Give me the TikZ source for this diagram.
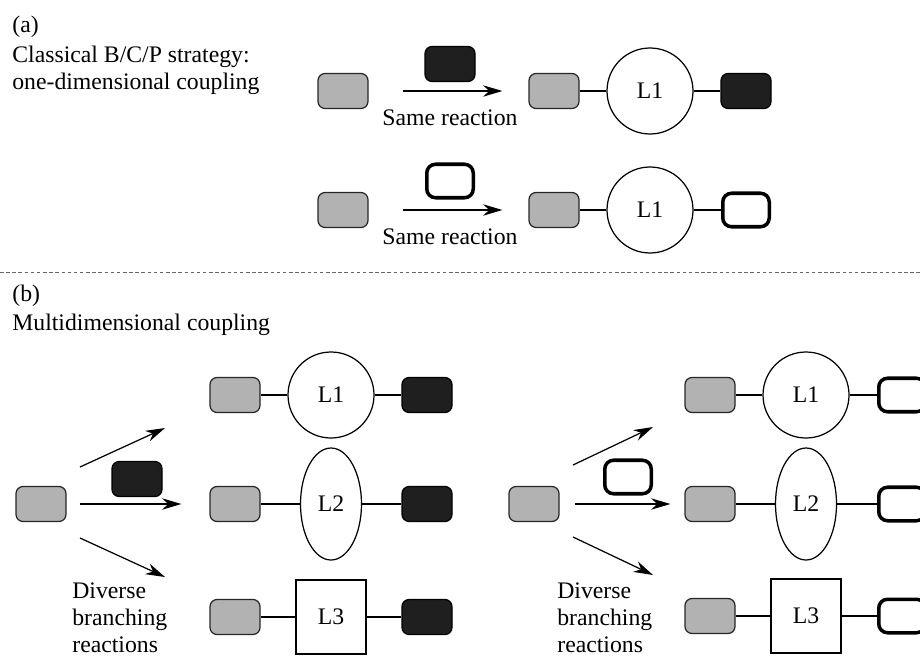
\documentclass[tikz,border=0pt]{standalone}
\usepackage{fontspec}
\setmainfont{Liberation Serif}
\usepackage{tikz}
\usetikzlibrary{shapes.geometric, arrows, arrows.meta, positioning}
\tikzstyle{core} = [rectangle, rounded corners=4pt, minimum width=1cm, minimum height=0.7cm, draw=black!85, line width=0.7pt, fill=black!30]
\tikzstyle{filled} = [rectangle, rounded corners=4pt, minimum width=1cm, minimum height=0.7cm, draw=black, line width=0.7pt, fill=black!88]
\tikzstyle{hollow} = [rectangle, rounded corners=5pt, minimum width=0.93cm, minimum height=0.67cm, draw=black, line width=2pt, fill=white]
\tikzstyle{ring} = [circle, minimum size=1.72cm, inner sep=0pt, draw=black, line width=0.7pt]
\tikzstyle{oval} = [ellipse, minimum width=1.22cm, minimum height=2.24cm, inner sep=0pt, draw=black, line width=0.7pt]
\tikzstyle{box} = [rectangle, minimum width=1.4cm, minimum height=1.48cm, draw=black, line width=0.7pt]
\tikzstyle{note} = [align=left, inner sep=0pt]
\tikzstyle{link} = [line width=0.7pt]
\tikzstyle{arrow} = [line width=0.7pt, ->, >={Stealth[length=11pt, width=6.5pt, inset=3.5pt]}]

\begin{document}
\begin{tikzpicture}[node distance = 1.92cm, font=\fontsize{13.5}{15.5}\selectfont]
	\useasboundingbox (0,0) rectangle (18.4,-13.14);
	% (a) one-dimensional coupling
	\node (tagA) [note, anchor=west] at (0.24,-0.54) {(a)};
	\node (titleA) [note, anchor=west] at (0.24,-1.40) {Classical B/C/P strategy:\\one-dimensional coupling};

	\node (coreA1) [core] at (6.86,-1.82) {};
		\node (reagA1) [filled] at (9.0,-1.28) {};
		\node (noteA1) at (9.0,-2.36) {Same reaction};
		\node (prodA1) [core] at (11.08,-1.82) {};
		\node (ligA1) [ring, right of = prodA1] {L1};
		\node (capA1) [filled, right of = ligA1] {};
	\draw [arrow, shorten <=0.68cm, shorten >=0.52cm] (coreA1) -- (prodA1);
	\draw [link] (prodA1) -- (ligA1);
	\draw [link] (ligA1) -- (capA1);

	\node (coreA2) [core] at (6.86,-4.20) {};
		\node (reagA2) [hollow] at (9.0,-3.62) {};
		\node (noteA2) at (9.0,-4.74) {Same reaction};
		\node (prodA2) [core] at (11.08,-4.20) {};
		\node (ligA2) [ring, right of = prodA2] {L1};
		\node (capA2) [hollow, right of = ligA2] {};
	\draw [arrow, shorten <=0.68cm, shorten >=0.52cm] (coreA2) -- (prodA2);
	\draw [link] (prodA2) -- (ligA2);
	\draw [link] (ligA2) -- (capA2);

	\coordinate (cutL) at (0,-5.44);
	\coordinate (cutR) at (18.4,-5.44);
	\draw [dash pattern=on 2pt off 1.5pt, black!60, line width=0.5pt] (cutL) -- (cutR);

	% (b) multidimensional coupling
	\node (tagB) [note, anchor=west] at (0.24,-5.92) {(b)};
	\node (titleB) [note, anchor=west] at (0.24,-6.50) {Multidimensional coupling};

	\node (coreB) [core] at (0.82,-10.08) {};
		\node (reagB) [filled] at (2.74,-9.58) {};
		\node (prodB1) [core] at (4.70,-7.90) {};
		\node (ligB1) [ring, right of = prodB1] {L1};
		\node (capB1) [filled, right of = ligB1] {};
		\node (prodB2) [core] at (4.70,-10.08) {};
		\node (ligB2) [oval, right of = prodB2] {L2};
		\node (capB2) [filled, right of = ligB2] {};
		\node (prodB3) [core] at (4.70,-12.34) {};
		\node (ligB3) [box, right of = prodB3] {L3};
		\node (capB3) [filled, right of = ligB3] {};
		\node (noteB) [note, anchor=north west] at (1.44,-11.64) {Diverse\\branching\\reactions};
	\coordinate (upTailB) at (1.60,-9.34);
	\coordinate (upHeadB) at (3.30,-8.56);
	\coordinate (downTailB) at (1.60,-10.76);
	\coordinate (downHeadB) at (3.30,-11.54);
	\draw [arrow] (upTailB) -- (upHeadB);
	\draw [arrow, shorten <=0.26cm, shorten >=0.56cm] (coreB) -- (prodB2);
	\draw [arrow] (downTailB) -- (downHeadB);
	\draw [link] (prodB1) -- (ligB1) -- (capB1);
	\draw [link] (prodB2) -- (ligB2) -- (capB2);
	\draw [link] (prodB3) -- (ligB3) -- (capB3);

	\node (coreC) [core] at (10.68,-10.08) {};
		\node (reagC) [hollow] at (12.56,-9.54) {};
		\node (prodC1) [core] at (14.20,-7.90) {};
		\node (ligC1) [ring, right of = prodC1] {L1};
		\node (capC1) [hollow, right of = ligC1] {};
		\node (prodC2) [core] at (14.20,-10.08) {};
		\node (ligC2) [oval, right of = prodC2] {L2};
		\node (capC2) [hollow, right of = ligC2] {};
		\node (prodC3) [core] at (14.20,-12.32) {};
		\node (ligC3) [box, right of = prodC3] {L3};
		\node (capC3) [hollow, right of = ligC3] {};
		\node (noteC) [note, anchor=north west] at (11.14,-11.64) {Diverse\\branching\\reactions};
	\coordinate (upTailC) at (11.46,-9.30);
	\coordinate (upHeadC) at (13.06,-8.54);
	\coordinate (downTailC) at (11.46,-10.74);
	\coordinate (downHeadC) at (13.06,-11.50);
	\draw [arrow] (upTailC) -- (upHeadC);
	\draw [arrow, shorten <=0.30cm, shorten >=0.28cm] (coreC) -- (prodC2);
	\draw [arrow] (downTailC) -- (downHeadC);
	\draw [link] (prodC1) -- (ligC1) -- (capC1);
	\draw [link] (prodC2) -- (ligC2) -- (capC2);
	\draw [link] (prodC3) -- (ligC3) -- (capC3);
\end{tikzpicture}
\end{document}
